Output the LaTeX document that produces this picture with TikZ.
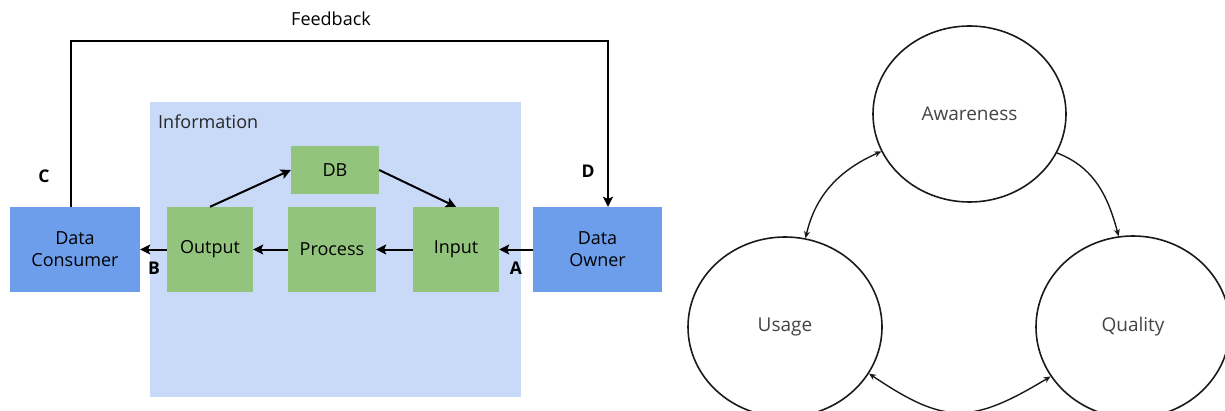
\documentclass[tikz,border=0pt]{standalone}
\usepackage{fontspec}
\setmainfont{Open Sans}
\usetikzlibrary{arrows.meta,shapes.geometric}

\definecolor{infobg}{HTML}{C9DAF8}
\definecolor{procgreen}{HTML}{93C47D}
\definecolor{actorblue}{HTML}{6D9EEB}
\definecolor{ringline}{HTML}{1A1A1A}
\definecolor{ringtext}{HTML}{444444}

\tikzset{
  txt/.style={font=\fontsize{18}{22}\selectfont, text=black},
  actor/.style={txt, fill=actorblue, draw=none, align=center, inner sep=0pt},
  procbox/.style={txt, fill=procgreen, draw=none, align=center, inner sep=0pt},
  letter/.style={font=\fontsize{17.5}{20}\selectfont\bfseries, text=black},
  flow/.style={line width=2pt, draw=black, -{Stealth[length=10pt,width=10pt,inset=2pt]}},
  ring/.style={ellipse, draw=ringline, line width=1.6pt, inner sep=0pt,
    font=\fontsize{19}{22}\selectfont, text=ringtext},
  cyclearc/.style={line width=1.4pt, draw=ringline},
  smalltip/.tip={Stealth[length=7pt,width=6pt]}
}

\begin{document}
\begin{tikzpicture}[x=1pt,y=1pt]
\useasboundingbox (0,0) rectangle (1225,410);

% ---------- left: data flow ----------
\node[fill=infobg, minimum width=371pt, minimum height=295pt, inner sep=0pt] (info) at (335,160.5) {};
\node[txt, anchor=west, inner sep=0pt, text=black!85] (infolbl) at (158,288) {Information};

\node[procbox, minimum width=88pt, minimum height=48pt] (db) at (335,240) {DB};
\node[procbox, minimum width=86pt, minimum height=85pt] (outp) at (210,160.5) {Output};
\node[procbox, minimum width=88pt, minimum height=85pt] (proc) at (332,160.5) {Process};
\node[procbox, minimum width=86pt, minimum height=85pt] (inp) at (456,160.5) {Input};

\node[actor, minimum width=130pt, minimum height=85pt] (cons) at (75,160.5) {Data\\Consumer};
\node[actor, minimum width=129pt, minimum height=85pt] (own) at (597.5,160.5) {Data\\Owner};

\draw[flow] (own.west) -- (inp.east);
\draw[flow] (inp.west) -- (proc.east);
\draw[flow] (proc.west) -- (outp.east);
\draw[flow] (outp.west) -- (cons.east);
\draw[flow] (outp.north) -- (db.west);
\draw[flow] (db.east) -- (inp.north);

% feedback loop over the top
\coordinate (fbL) at (71,369);
\draw[flow] ([xshift=-4pt]cons.north) -- (fbL) -| ([xshift=10.5pt]own.north);
\node[txt] (fbtext) at (331,391) {Feedback};

\node[letter] (lA) at (516,142) {A};
\node[letter] (lB) at (154,142) {B};
\node[letter] (lC) at (44,234) {C};
\node[letter] (lD) at (588,239) {D};

% ---------- right: awareness / usage / quality cycle ----------
\node[ring, minimum width=193pt, minimum height=176pt] (aw) at (969.5,296) {Awareness};
\node[ring, minimum width=194pt, minimum height=180pt] (us) at (785,83) {Usage};
\node[ring, minimum width=194pt, minimum height=182pt] (qu) at (1133,83) {Quality};

\draw[cyclearc, smalltip-smalltip] (aw.203) to[out=204, in=77] (us.77);
\draw[cyclearc, -smalltip] (aw.336) to[out=339, in=105] (qu.99);
\draw[cyclearc, smalltip-smalltip] (us.331) to[out=326, in=211, looseness=1.3] (qu.211);
\end{tikzpicture}
\end{document}
